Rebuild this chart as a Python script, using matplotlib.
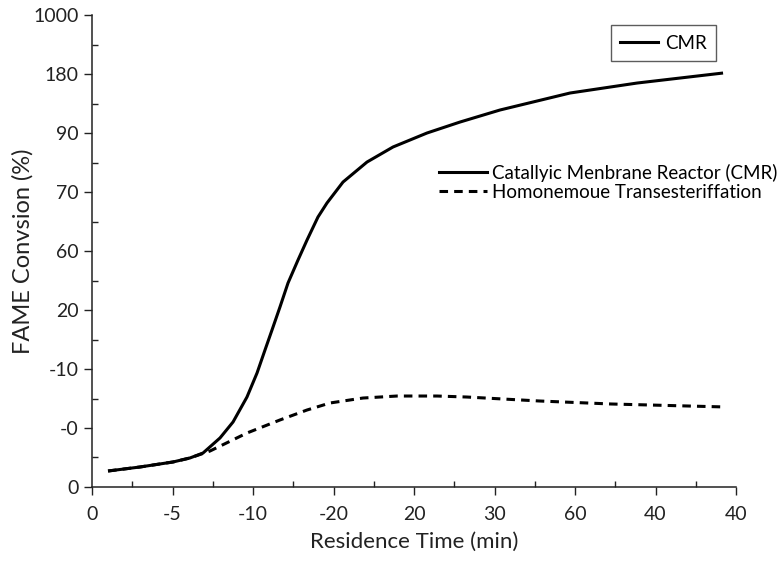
import matplotlib
matplotlib.use("Agg")
import matplotlib.pyplot as plt
from matplotlib.lines import Line2D
from matplotlib.ticker import MultipleLocator

plt.rcParams['font.family'] = ['Lato', 'DejaVu Sans']

# tick labels (positions are evenly spaced category slots)
x_tick_labels = ["0", "-5", "-10", "-20", "20", "30", "60", "40", "40"]
y_tick_labels = ["0", "-0", "-10", "20", "60", "70", "90", "180", "1000"]

# curves, in tick-slot units
cmr_x = [0.199, 0.596, 1.006, 1.217, 1.379, 1.590, 1.752, 1.925, 2.050, 2.149, 2.236,
         2.335, 2.435, 2.559, 2.671, 2.807, 2.919, 3.118, 3.416, 3.739, 4.161, 4.571,
         5.068, 5.938, 6.770, 7.304, 7.839]
cmr_y = [0.271, 0.339, 0.424, 0.492, 0.576, 0.831, 1.102, 1.525, 1.932, 2.322, 2.661,
         3.051, 3.458, 3.847, 4.186, 4.576, 4.814, 5.169, 5.508, 5.763, 6.000, 6.186,
         6.390, 6.678, 6.847, 6.932, 7.017]
homo_x = [0.199, 0.596, 1.006, 1.217, 1.466, 1.925, 2.335, 2.671, 2.957, 3.366, 3.789,
          4.286, 4.658, 5.553, 6.447, 7.876]
homo_y = [0.271, 0.339, 0.424, 0.492, 0.610, 0.915, 1.136, 1.305, 1.424, 1.508, 1.542,
          1.542, 1.525, 1.458, 1.407, 1.356]

fig = plt.figure(figsize=(7.81, 5.67), dpi=100)
ax = fig.add_axes([0.1178, 0.1411, 0.8246, 0.8324])

ax.plot(cmr_x, cmr_y, color='black', lw=2.2, solid_joinstyle='round', solid_capstyle='butt')
ax.plot(homo_x, homo_y, color='black', lw=2.2, ls=(0, (2.8, 2.0)), dash_joinstyle='round')

ax.set_xlim(0, 8)
ax.set_ylim(0, 8)
ax.set_xticks(range(len(x_tick_labels)))
ax.set_xticklabels(x_tick_labels)
ax.set_yticks(range(len(y_tick_labels)))
ax.set_yticklabels(y_tick_labels)
ax.xaxis.set_minor_locator(MultipleLocator(0.5))
ax.yaxis.set_minor_locator(MultipleLocator(0.5))
ax.tick_params(which='major', direction='out', length=6, width=1, labelsize=14, colors='#222222')
ax.tick_params(which='minor', direction='in', length=4, width=1, colors='#222222')
ax.tick_params(axis='x', which='major', pad=8)

for s in ['top', 'right']:
    ax.spines[s].set_visible(False)
for s in ['left', 'bottom']:
    ax.spines[s].set_linewidth(1.1)
    ax.spines[s].set_color('#222222')

ax.set_xlabel("Residence Time (min)", fontsize=16, color='#222222', labelpad=6)
ax.set_ylabel("FAME Convsion (%)", fontsize=17, color='#222222', labelpad=0)

h1 = Line2D([], [], color='black', lw=2.2)
leg1 = ax.legend([h1], ["CMR"], loc='upper right', bbox_to_anchor=(0.978, 0.99),
                 frameon=True, fancybox=False, edgecolor='#333333', fontsize=13.5,
                 handlelength=2.0, handletextpad=0.4, borderpad=0.5, borderaxespad=0.3)
leg1.get_frame().set_linewidth(1.0)
ax.add_artist(leg1)

h2 = Line2D([], [], color='black', lw=2.2)
h3 = Line2D([], [], color='black', lw=2.2, ls=(0, (2.8, 2.0)))
ax.legend([h2, h3], ["Catallyic Menbrane Reactor (CMR)", "Homonemoue Transesteriffation"],
          loc='upper left', bbox_to_anchor=(0.518, 0.713), frameon=False, fontsize=13.5,
          handlelength=2.6, handletextpad=0.25, labelspacing=0.1, borderpad=0.2)

fig.savefig("out.png", dpi=100)
